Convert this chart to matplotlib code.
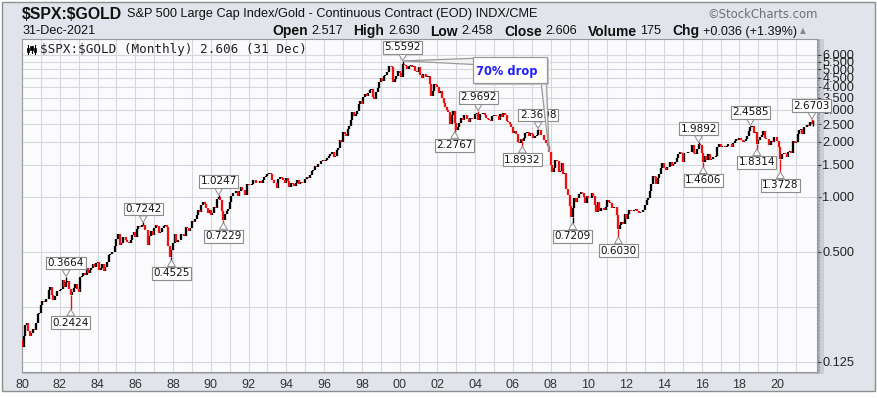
import matplotlib
matplotlib.use("Agg")
import matplotlib.pyplot as plt
import numpy as np
from matplotlib.patches import Rectangle, Polygon
from matplotlib.lines import Line2D
from matplotlib.ticker import FixedLocator, FixedFormatter, NullFormatter

# ---------------- data (monthly closes of $SPX:$GOLD) ----------------
open_dec1979 = 0.165
c1980 = [0.150, 0.172, 0.200, 0.205, 0.185, 0.172, 0.180, 0.190, 0.186, 0.205, 0.228, 0.232]
c1981 = [0.256, 0.268, 0.265, 0.276, 0.276, 0.308, 0.322, 0.289, 0.271, 0.285, 0.305, 0.306]
c1982 = [0.311, 0.312, 0.350, 0.322, 0.343, 0.348, 0.313, 0.291, 0.303, 0.316, 0.335, 0.314]
c1983 = [0.302, 0.363, 0.369, 0.383, 0.372, 0.408, 0.385, 0.397, 0.410, 0.428, 0.411, 0.432]
c1984 = [0.442, 0.399, 0.410, 0.427, 0.391, 0.411, 0.439, 0.479, 0.487, 0.499, 0.497, 0.541]
c1985 = [0.587, 0.629, 0.548, 0.558, 0.600, 0.605, 0.584, 0.566, 0.559, 0.584, 0.622, 0.646]
c1986 = [0.605, 0.669, 0.694, 0.683, 0.700, 0.705, 0.661, 0.659, 0.546, 0.608, 0.651, 0.619]
c1987 = [0.677, 0.702, 0.693, 0.635, 0.643, 0.679, 0.690, 0.700, 0.681, 0.538, 0.468, 0.511]
c1988 = [0.561, 0.629, 0.567, 0.579, 0.581, 0.627, 0.624, 0.612, 0.685, 0.677, 0.650, 0.677]
c1989 = [0.740, 0.730, 0.760, 0.800, 0.850, 0.830, 0.900, 0.940, 0.910, 0.870, 0.820, 0.850]
c1990 = [0.793, 0.815, 0.880, 0.870, 0.980, 1.000, 0.958, 0.834, 0.750, 0.802, 0.837, 0.855]
c1991 = [0.940, 1.011, 1.054, 1.051, 1.083, 1.009, 1.071, 1.139, 1.093, 1.096, 1.025, 1.182]
c1992 = [1.155, 1.169, 1.180, 1.235, 1.233, 1.190, 1.188, 1.218, 1.197, 1.235, 1.292, 1.308]
c1993 = [1.330, 1.356, 1.336, 1.240, 1.191, 1.192, 1.115, 1.246, 1.293, 1.264, 1.245, 1.193]
c1994 = [1.274, 1.226, 1.140, 1.196, 1.180, 1.151, 1.193, 1.232, 1.174, 1.214, 1.185, 1.199]
c1995 = [1.254, 1.293, 1.277, 1.323, 1.385, 1.408, 1.468, 1.467, 1.522, 1.518, 1.564, 1.591]
c1996 = [1.570, 1.601, 1.630, 1.669, 1.711, 1.755, 1.662, 1.685, 1.813, 1.861, 2.040, 2.007]
c1997 = [2.279, 2.209, 2.169, 2.357, 2.459, 2.650, 2.927, 2.768, 2.845, 2.941, 3.228, 3.346]
c1998 = [3.235, 3.533, 3.660, 3.586, 3.710, 3.830, 3.891, 3.507, 3.459, 3.763, 3.958, 4.268]
c1999 = [4.459, 4.315, 4.594, 4.669, 4.858, 5.239, 5.190, 5.178, 4.250, 4.450, 4.600, 4.900]
c2000 = [4.750, 4.550, 5.371, 5.301, 5.223, 5.051, 5.184, 5.300, 5.150, 5.200, 4.871, 4.854]
c2001 = [5.155, 4.644, 4.497, 4.733, 4.703, 4.535, 4.571, 4.152, 3.553, 3.799, 4.144, 4.115]
c2002 = [4.008, 3.726, 3.799, 3.496, 3.273, 3.113, 2.999, 2.936, 2.516, 2.794, 2.944, 2.535]
c2003 = [2.325, 2.424, 2.540, 2.721, 2.647, 2.816, 2.797, 2.688, 2.587, 2.722, 2.659, 2.673]
c2004 = [2.828, 2.884, 2.644, 2.854, 2.852, 2.895, 2.818, 2.706, 2.679, 2.634, 2.591, 2.767]
c2005 = [2.799, 2.773, 2.758, 2.653, 2.857, 2.732, 2.877, 2.818, 2.598, 2.568, 2.524, 2.415]
c2006 = [2.250, 2.303, 2.225, 2.004, 1.975, 2.072, 2.017, 2.093, 2.230, 2.281, 2.168, 2.230]
c2007 = [2.213, 2.115, 2.146, 2.180, 2.333, 2.313, 2.188, 2.190, 2.055, 1.964, 1.891, 1.761]
c2008 = [1.494, 1.369, 1.444, 1.602, 1.581, 1.376, 1.387, 1.540, 1.339, 1.349, 1.101, 1.022]
c2009 = [0.890, 0.780, 0.871, 0.987, 0.939, 0.992, 1.034, 1.069, 1.056, 0.996, 0.927, 1.017]
c2010 = [0.992, 0.988, 1.051, 1.006, 0.898, 0.829, 0.933, 0.842, 0.873, 0.872, 0.852, 0.885]
c2011 = [0.965, 0.941, 0.921, 0.872, 0.876, 0.880, 0.794, 0.666, 0.698, 0.727, 0.714, 0.803]
c2012 = [0.754, 0.805, 0.844, 0.840, 0.840, 0.849, 0.856, 0.832, 0.813, 0.822, 0.826, 0.851]
c2013 = [0.901, 0.960, 0.983, 1.082, 1.171, 1.302, 1.284, 1.170, 1.267, 1.328, 1.441, 1.538]
c2014 = [1.438, 1.408, 1.458, 1.454, 1.544, 1.483, 1.506, 1.557, 1.630, 1.724, 1.760, 1.739]
c2015 = [1.560, 1.735, 1.748, 1.763, 1.771, 1.760, 1.921, 1.742, 1.722, 1.821, 1.953, 1.928]
c2016 = [1.739, 1.561, 1.669, 1.597, 1.726, 1.589, 1.610, 1.655, 1.648, 1.670, 1.867, 1.943]
c2017 = [1.882, 1.892, 1.892, 1.880, 1.902, 1.951, 1.947, 1.870, 1.968, 2.026, 2.077, 2.052]
c2018 = [2.100, 2.059, 1.990, 2.012, 2.081, 2.169, 2.284, 2.406, 2.445, 2.232, 2.259, 1.957]
c2019 = [2.041, 2.116, 2.184, 2.292, 2.099, 2.082, 2.074, 1.914, 2.022, 2.008, 2.132, 2.121]
c2020 = [2.032, 1.886, 1.619, 1.719, 1.739, 1.722, 1.647, 1.770, 1.774, 1.740, 2.033, 1.982]
c2021 = [2.008, 2.204, 2.315, 2.365, 2.206, 2.427, 2.419, 2.486, 2.452, 2.581, 2.517, 2.606]

# labelled monthly extremes (H = high, L = low)
ext_dates = ['1982-05', '1982-08', '1986-06', '1987-12', '1990-06', '1990-09', '2000-03',
             '2002-12', '2004-03', '2006-07', '2007-05', '2009-03', '2011-08', '2015-11',
             '2016-02', '2018-08', '2018-12', '2020-03', '2021-11']
ext_values = [0.3664, 0.2424, 0.7242, 0.4525, 1.0247, 0.7229, 5.5592,
              2.2767, 2.9692, 1.8932, 2.3698, 0.7209, 0.6030, 1.9892,
              1.4606, 2.4585, 1.8314, 1.3728, 2.6703]
ext_kinds = ['H', 'L', 'H', 'L', 'H', 'L', 'H',
             'L', 'H', 'L', 'H', 'L', 'L', 'H',
             'L', 'H', 'L', 'L', 'H']

# last bar (header values)
last_open, last_high, last_low, last_close = 2.517, 2.630, 2.458, 2.606
last_volume, last_chg, last_chg_pct = 175, 0.036, 1.39

# callout: from the peak to the end-2007 level
drop_from = '2000-03'
drop_to = '2007-12'
drop_text = '70% drop'

ytick_vals = [0.125, 0.5, 1.0, 1.5, 2.0, 2.5, 3.0, 3.5, 4.0, 4.5, 5.0, 5.5, 6.0]
ygrid_extra = [0.25]
xtick_years = list(range(1980, 2021, 2))

# ---------------- build series ----------------
yearly = [c1980, c1981, c1982, c1983, c1984, c1985, c1986, c1987, c1988, c1989, c1990,
          c1991, c1992, c1993, c1994, c1995, c1996, c1997, c1998, c1999, c2000, c2001,
          c2002, c2003, c2004, c2005, c2006, c2007, c2008, c2009, c2010, c2011, c2012,
          c2013, c2014, c2015, c2016, c2017, c2018, c2019, c2020, c2021]
closes = np.concatenate([np.array(v, float) for v in yearly])
n = len(closes)
opens = np.r_[open_dec1979, closes[:-1]]
xs = 1980 + np.arange(n) / 12.0


def idx(datestr):
    y, m = datestr.split('-')
    return (int(y) - 1980) * 12 + int(m) - 1


# ---------------- figure ----------------
W, H = 877, 398
fig = plt.figure(figsize=(W / 100, H / 100), dpi=100, facecolor='white')


def fx(px):
    return px / W


def fy(py):
    return 1 - py / H


fig.patches.append(Rectangle((fx(1.5), fy(391)), fx(873.5), 389.5 / H, transform=fig.transFigure,
                             fc='#e1e4ea', ec='#8e8e8e', lw=1.0, zorder=-5))

L, R, T, B = 21.7, 816.7, 39.3, 371.7
# shadows right and below the plot
fig.patches.append(Rectangle((fx(R), fy(B + 2)), fx(3), (B + 2 - T) / H, transform=fig.transFigure,
                             fc='#aeb2ba', ec='none', zorder=-4))
fig.patches.append(Rectangle((fx(R + 3), fy(B + 2)), fx(4), (B + 2 - T) / H, transform=fig.transFigure,
                             fc='#c9cdd4', ec='none', zorder=-4))
fig.patches.append(Rectangle((fx(L), fy(B + 2.5)), fx(R - L), 2.5 / H, transform=fig.transFigure,
                             fc='#b9bcc3', ec='none', zorder=-4))

ax = fig.add_axes([fx(L), fy(B), (R - L) / W, (B - T) / H])
ax.set_zorder(2)
ax.set_facecolor('#fbfbfd')
ax.set_yscale('log')
ax.set_xlim(1979.984, 2022.09)
ax.set_ylim(0.1103, 7.30)

# grid
for yr in range(1980, 2022):
    ax.axvline(yr, color='#d6d7de', lw=0.8, zorder=0)
for v in ytick_vals + ygrid_extra:
    ax.axhline(v, color='#d6d7de', lw=0.8, zorder=0)

# candles (body from previous close to close)
up = closes >= opens
lw_body = 2.3 * 72 / 100
ax.vlines(xs[up], opens[up], closes[up], colors='#000000', lw=lw_body, zorder=3)
ax.vlines(xs[~up], opens[~up], closes[~up], colors='#ee1111', lw=lw_body, zorder=3)

# wicks for the labelled extremes
for d, v, k in zip(ext_dates, ext_values, ext_kinds):
    i = idx(d)
    col = '#000000' if up[i] else '#ee1111'
    base = max(opens[i], closes[i]) if k == 'H' else min(opens[i], closes[i])
    ax.vlines(xs[i], base, v, colors=col, lw=1.0, zorder=3)
col_last = '#000000' if up[-1] else '#ee1111'
ax.vlines(xs[-1], last_low, last_high, colors=col_last, lw=1.0, zorder=3)

# value labels
for d, v, k in zip(ext_dates, ext_values, ext_kinds):
    i = idx(d)
    off = 13.5 if k == 'H' else -13.5
    ax.annotate(f"{v:.4f}", xy=(xs[i], v), xytext=(0, off), textcoords='offset pixels',
                ha='center', va='center', fontsize=7.5, family='DejaVu Sans', color='#111111',
                bbox=dict(boxstyle='square,pad=0.14', fc='white', ec='#8c8c8c', lw=0.8),
                arrowprops=dict(arrowstyle='wedge,tail_width=0.75,shrink_factor=0.5', fc='white',
                                ec='#8c8c8c', lw=0.7, shrinkA=0, shrinkB=0),
                zorder=5, annotation_clip=False)

# axes styling
for s in ax.spines.values():
    s.set_color('#9a9a9a')
    s.set_linewidth(0.8)
ax.yaxis.tick_right()
ax.yaxis.set_major_locator(FixedLocator(ytick_vals))
ax.yaxis.set_major_formatter(FixedFormatter([f"{v:.3f}" for v in ytick_vals]))
minor_pos = np.geomspace(0.112, 7.2, 100)
ax.yaxis.set_minor_locator(FixedLocator(minor_pos))
ax.yaxis.set_minor_formatter(NullFormatter())
ax.tick_params(axis='y', which='major', length=3, width=0.8, color='#444444', pad=1,
               labelsize=9.2, labelcolor='#222222')
ax.tick_params(axis='y', which='minor', length=1.2, width=0.6, color='#8a8a8a')
for lab in ax.get_yticklabels():
    lab.set_family('Liberation Sans')

ax.set_xticks(xtick_years)
ax.set_xticklabels([f"{y % 100:02d}" for y in xtick_years], family='Liberation Sans')
ax.tick_params(axis='x', which='both', length=0, pad=5, labelsize=9, labelcolor='#333333')

# legend line inside plot
fig.text(fx(40), fy(49.5), "$SPX:$GOLD (Monthly) 2.606 (31 Dec)", family='DejaVu Sans Mono',
         fontsize=9.1, color='#222222', va='center', ha='left', zorder=10, parse_math=False)
for k, cx in enumerate([28.0, 31.5, 35.0]):
    fig.add_artist(Line2D([fx(cx), fx(cx)], [fy(45 + (k % 2)), fy(54 - (k % 2))], color='#000', lw=0.8,
                          transform=fig.transFigure, zorder=10))
    fig.patches.append(Rectangle((fx(cx - 1.2), fy(52 - (k % 2) * 2)), fx(2.4), 4 / H,
                                 transform=fig.transFigure, fc='#000', ec='#000', lw=0.5, zorder=10))

# callout "70% drop"
fig.canvas.draw()


def d2f(x, y):
    p = ax.transData.transform((x, y))
    return fig.transFigure.inverted().transform(p)


i0, i1 = idx(drop_from), idx(drop_to)
p_peak = d2f(xs[i0], ext_values[ext_dates.index(drop_from)])
p_tgt = d2f(xs[i1], closes[i1])
bx0, bx1, by0, by1 = 473, 546.5, 57, 83
up_wedge = Polygon([p_peak, (fx(bx0 + 1), fy(58.3)), (fx(bx0 + 1), fy(64.5))], closed=True,
                   transform=fig.transFigure, fc='#f2f2f2', ec='#9a9a9a', lw=0.9, zorder=11)
dn_wedge = Polygon([(fx(bx1 - 5.5), fy(by1 - 1)), (fx(bx1), fy(by1 - 1)), p_tgt], closed=True,
                   transform=fig.transFigure, fc='#f2f2f2', ec='#9a9a9a', lw=0.9, zorder=11)
fig.patches.append(up_wedge)
fig.patches.append(dn_wedge)
fig.patches.append(Rectangle((fx(bx0 + 2), fy(by1 + 2)), fx(bx1 - bx0), (by1 - by0) / H,
                             transform=fig.transFigure, fc='#c4c4c4', ec='none', zorder=11.5))
fig.patches.append(Rectangle((fx(bx0), fy(by1)), fx(bx1 - bx0), (by1 - by0) / H,
                             transform=fig.transFigure, fc='white', ec='#9a9a9a', lw=0.9, zorder=12))
fig.text(fx(506.5), fy(71.5), drop_text, family='DejaVu Sans', fontweight='bold', fontsize=8.3,
         color='#1f1fff', va='center', ha='center', zorder=13)

# ---------------- header ----------------
fig.text(fx(22), fy(14.5), "$SPX:$GOLD", family='Liberation Sans', fontweight='bold', fontsize=11.4,
         color='#111111', va='center', ha='left', parse_math=False)
fig.text(fx(127), fy(14.5), "S&P 500 Large Cap Index/Gold - Continuous Contract (EOD) INDX/CME",
         family='Liberation Sans', fontsize=9.2, color='#111111', va='center', ha='left')
fig.text(fx(818), fy(14.5), "\u00a9StockCharts.com", family='DejaVu Sans', fontsize=8.4,
         color='#707070', va='center', ha='right')
fig.text(fx(22), fy(31.5), "31-Dec-2021", family='Liberation Sans', fontsize=9.1,
         color='#111111', va='center', ha='left')

renderer = fig.canvas.get_renderer()
items = [('Open', f"{last_open:.3f}"), ('High', f"{last_high:.3f}"),
         ('Low', f"{last_low:.3f}"), ('Close', f"{last_close:.3f}"),
         ('Volume', f"{last_volume}"),
         ('Chg', f"{last_chg:+.3f} ({last_chg_pct:+.2f}%)")]
x_start, x_end, inner = 272.0, 797.0, 3.5
arts = []
total = 0.0
for lab, val in items:
    t1 = fig.text(0, fy(31.5), lab, family='Liberation Sans', fontweight='bold', fontsize=10.0,
                  color='#111111', va='center', ha='left')
    t2 = fig.text(0, fy(31.5), val, family='Liberation Sans', fontsize=9.1,
                  color='#111111', va='center', ha='left')
    w1 = t1.get_window_extent(renderer=renderer).width
    w2 = t2.get_window_extent(renderer=renderer).width
    arts.append((t1, t2, w1, w2))
    total += w1 + inner + w2
gap = (x_end - x_start - total) / (len(items) - 1)
xcur = x_start
for t1, t2, w1, w2 in arts:
    t1.set_x(fx(xcur))
    t2.set_x(fx(xcur + w1 + inner))
    xcur += w1 + inner + w2 + gap
fig.text(fx(802.5), fy(31), "\u25b2", family='DejaVu Sans', fontsize=5.5, color='#8a8a8a',
         va='center', ha='center')

fig.savefig('out.png', dpi=100, facecolor=fig.get_facecolor())
